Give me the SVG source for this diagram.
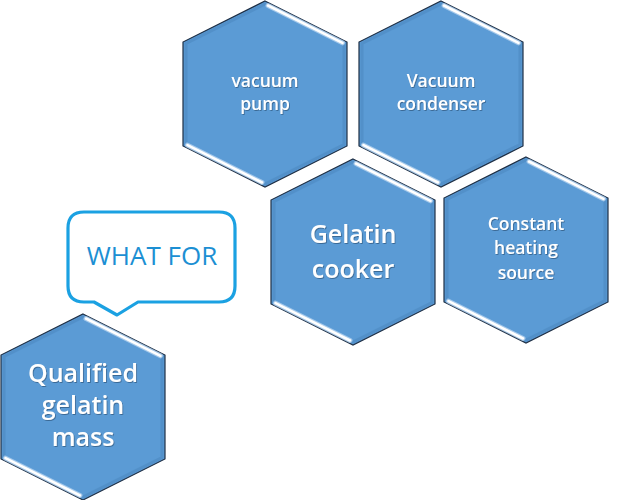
<svg xmlns="http://www.w3.org/2000/svg" xmlns:xlink="http://www.w3.org/1999/xlink" width="620" height="500" viewBox="0 0 620 500">
<style>
.hex{fill:#5b9bd5;stroke:#1e2f45;stroke-width:1.2}
.inner{fill:none;stroke:#4d89c2;stroke-width:3;opacity:0.6}
.hl{fill:none;stroke:#ffffff;stroke-width:2.6;stroke-linecap:round}
.hlg{fill:none;stroke:#d6e8fa;stroke-width:5;stroke-linecap:round;opacity:0.6}
.lbl{font-family:"Open Sans","Liberation Sans",sans-serif;font-weight:600;fill:#ffffff;text-anchor:middle;filter:url(#ts)}
.s{font-size:17.5px}
.l{font-size:25px}
.bubble{fill:#ffffff;stroke:#1ba1e2;stroke-width:3.2;stroke-linejoin:round}
.btxt{font-family:"Open Sans","Liberation Sans",sans-serif;font-size:26px;fill:#1c8fd3;text-anchor:middle}
</style>
<defs>
<filter id="ts" x="-20%" y="-30%" width="140%" height="160%">
<feDropShadow dx="0.8" dy="1" stdDeviation="0.7" flood-color="#23415f" flood-opacity="0.55"/>
</filter>
<path id="hexp" d="M0,-93 L82,-52 L82,52 L0,93 L-82,52 L-82,-52 Z"/>
<path id="innerp" d="M0,-90 L79,-50.5 L79,50.5 L0,90 L-79,50.5 L-79,-50.5 Z"/>
<path id="hlp" d="M3,-88.5 L77.5,-51.2 M-77.5,51.2 L-3,88.5"/>
</defs>
<g id="connectors"></g>
<g id="node-vacuum-pump" transform="translate(265,94)">
<use href="#hexp" class="hex"/><use href="#innerp" class="inner"/><use href="#hlp" class="hlg"/><use href="#hlp" class="hl"/>
<text class="lbl s" x="0" y="-7">vacuum</text>
<text class="lbl s" x="0" y="16">pump</text>
</g>
<g id="node-vacuum-condenser" transform="translate(441,94)">
<use href="#hexp" class="hex"/><use href="#innerp" class="inner"/><use href="#hlp" class="hlg"/><use href="#hlp" class="hl"/>
<text class="lbl s" x="0" y="-7">Vacuum</text>
<text class="lbl s" x="0" y="16">condenser</text>
</g>
<g id="node-gelatin-cooker" transform="translate(353,252)">
<use href="#hexp" class="hex"/><use href="#innerp" class="inner"/><use href="#hlp" class="hlg"/><use href="#hlp" class="hl"/>
<text class="lbl l" x="0" y="-9">Gelatin</text>
<text class="lbl l" x="0" y="26">cooker</text>
</g>
<g id="node-constant-heating" transform="translate(526,250)">
<use href="#hexp" class="hex"/><use href="#innerp" class="inner"/><use href="#hlp" class="hlg"/><use href="#hlp" class="hl"/>
<text class="lbl s" x="0" y="-20">Constant</text>
<text class="lbl s" x="0" y="4">heating</text>
<text class="lbl s" x="0" y="29">source</text>
</g>
<g id="node-qualified" transform="translate(83,407)">
<use href="#hexp" class="hex"/><use href="#innerp" class="inner"/><use href="#hlp" class="hlg"/><use href="#hlp" class="hl"/>
<text class="lbl l" x="0" y="-25">Qualified</text>
<text class="lbl l" x="0" y="7">gelatin</text>
<text class="lbl l" x="0" y="39">mass</text>
</g>
<g id="node-what-for">
<path class="bubble" d="M84,212 L219,212 Q235,212 235,228 L235,286 Q235,302 219,302 L138,302 L117,315 L94,302 L84,302 Q68,302 68,286 L68,228 Q68,212 84,212 Z"/>
<text class="btxt" x="152" y="265">WHAT FOR</text>
</g>
</svg>
